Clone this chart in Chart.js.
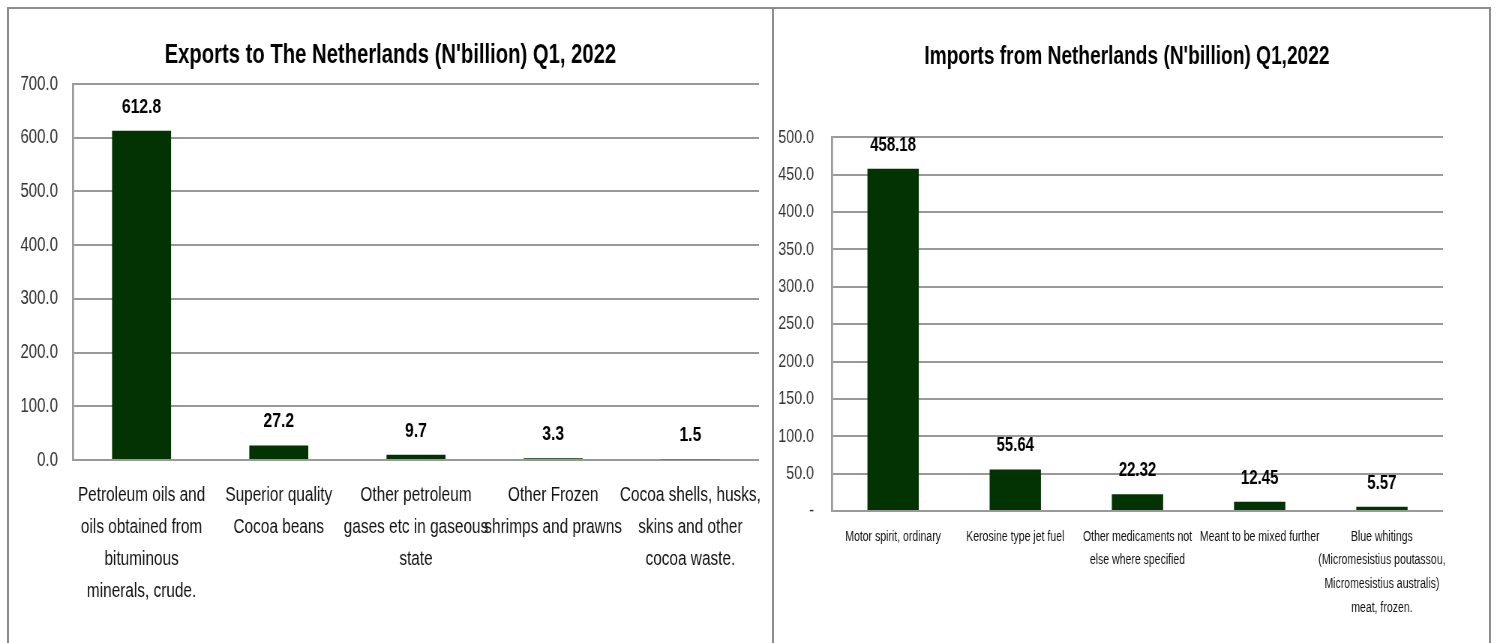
<!DOCTYPE html>
<html>
<head>
<meta charset="utf-8">
<script src="https://cdn.jsdelivr.net/npm/chart.js@4.4.1/dist/chart.umd.min.js"></script>
<style>
  html, body { margin: 0; padding: 0; background: #fff; }
  body { width: 1496px; height: 643px; position: relative; overflow: hidden; }
  .line { position: absolute; background: #8c8c8c; }
  .wrap { position: absolute; top: 9px; transform: scaleX(0.75); transform-origin: 0 0; }
</style>
</head>
<body>
<div class="line" style="left:7px;top:7px;width:1484px;height:2px"></div>
<div class="line" style="left:7px;top:7px;width:2px;height:640px"></div>
<div class="line" style="left:772px;top:7px;width:2px;height:640px"></div>
<div class="line" style="left:1489px;top:7px;width:2px;height:640px"></div>

<div class="wrap" style="left:9px"><canvas id="exports" width="1017" height="634" style="width:1017px;height:634px"></canvas></div>
<div class="wrap" style="left:774px"><canvas id="imports" width="941" height="634" style="width:941px;height:634px"></canvas></div>

<script>
// exports to the Netherlands, N'billion
const exportLabels = [
  ['Petroleum oils and', 'oils obtained from', 'bituminous', 'minerals, crude.'],
  ['Superior quality', 'Cocoa beans'],
  ['Other petroleum', 'gases etc in gaseous', 'state'],
  ['Other Frozen', 'shrimps and prawns'],
  ['Cocoa shells, husks,', 'skins and other', 'cocoa waste.'],
];
const exportValues = [612.8, 27.2, 9.7, 3.3, 1.5];

// imports from the Netherlands, N'billion
const importLabels = [
  ['Motor spirit, ordinary'],
  ['Kerosine type jet fuel'],
  ['Other medicaments not', 'else where specified'],
  ['Meant to be mixed further'],
  ['Blue whitings', '(Micromesistius poutassou,', 'Micromesistius australis)', 'meat, frozen.'],
];
const importValues = [458.18, 55.64, 22.32, 12.45, 5.57];

const barColor = '#033303';
const gridColor = '#999999';

Chart.defaults.font.family = "'Liberation Sans', Arial, sans-serif";
Chart.defaults.color = '#1a1a1a';

// draws the value above every bar
const valueLabels = {
  id: 'valueLabels',
  afterDatasetsDraw(chart, args, opts) {
    const ctx = chart.ctx;
    const values = chart.data.datasets[0].data;
    ctx.save();
    ctx.font = 'bold ' + opts.size + "px 'Liberation Sans', Arial, sans-serif";
    ctx.fillStyle = '#000';
    ctx.textAlign = 'center';
    ctx.textBaseline = 'alphabetic';
    chart.getDatasetMeta(0).data.forEach((bar, i) => {
      ctx.fillText(values[i].toFixed(opts.decimals), bar.x, bar.y - opts.gap);
    });
    ctx.restore();
  }
};

function makeChart(id, cfg) {
  return new Chart(document.getElementById(id), {
    type: 'bar',
    data: {
      labels: cfg.labels,
      datasets: [{
        data: cfg.values,
        backgroundColor: barColor,
        barPercentage: cfg.barPct,
        categoryPercentage: 1,
      }],
    },
    options: {
      responsive: false,
      animation: false,
      events: [],
      layout: { padding: 0 },
      plugins: {
        legend: { display: false },
        tooltip: { enabled: false },
        title: {
          display: true,
          text: cfg.title,
          color: '#000',
          font: { size: cfg.titleSize, weight: 'bold', lineHeight: 1.2 },
          padding: { top: cfg.titleTop, bottom: cfg.titleBottom },
        },
        valueLabels: { size: cfg.valueSize, decimals: cfg.decimals, gap: 18 },
      },
      scales: {
        x: {
          grid: { display: false },
          border: { display: false },
          ticks: {
            autoSkip: false,
            maxRotation: 0,
            minRotation: 0,
            color: '#111',
            padding: cfg.xPad,
            font: { size: cfg.xSize, lineHeight: cfg.xLine + 'px' },
          },
          afterFit: (s) => { s.height = cfg.xHeight; },
        },
        y: {
          min: 0,
          max: cfg.max,
          grid: { color: gridColor, lineWidth: 2, drawTicks: false },
          border: { display: true, color: gridColor, width: 2.7 },
          ticks: {
            stepSize: cfg.step,
            padding: cfg.yPad,
            color: '#333',
            font: { size: cfg.ySize },
            callback: cfg.tickFmt,
          },
          afterFit: (s) => { s.width = cfg.yWidth; },
        },
        // empty axis on the right, only keeps the white margin
        margin: {
          position: 'right',
          display: true,
          grid: { display: false },
          border: { display: false },
          ticks: { display: false },
          afterFit: (s) => { s.width = cfg.rightGap; },
        },
      },
    },
    plugins: [valueLabels],
  });
}

makeChart('exports', {
  labels: exportLabels,
  values: exportValues,
  title: "Exports to The Netherlands (N'billion) Q1, 2022",
  titleSize: 27, titleTop: 30, titleBottom: 12.6,
  barPct: 0.43,
  yWidth: 85.3, rightGap: 17,
  max: 700, step: 100, ySize: 20, yPad: 20,
  tickFmt: (v) => v.toFixed(1),
  xSize: 20.5, xLine: 32, xPad: 11, xHeight: 183,
  valueSize: 21, decimals: 1,
});

makeChart('imports', {
  labels: importLabels,
  values: importValues,
  title: "Imports from Netherlands (N'billion) Q1,2022",
  titleSize: 25.5, titleTop: 32.4, titleBottom: 65.4,
  barPct: 0.42,
  yWidth: 77.3, rightGap: 49,
  max: 500, step: 50, ySize: 19, yPad: 24,
  tickFmt: (v) => (v === 0 ? '-' : v.toFixed(1)),
  xSize: 14, xLine: 23.7, xPad: 6, xHeight: 132,
  valueSize: 20, decimals: 2,
});
</script>
</body>
</html>
